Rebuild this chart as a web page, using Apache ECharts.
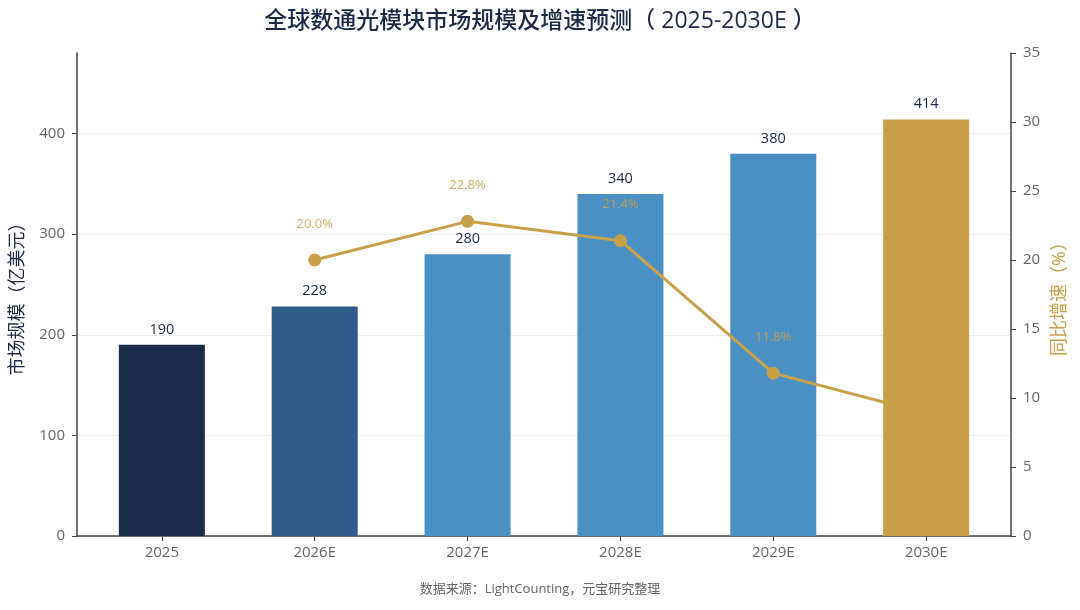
<!DOCTYPE html>
<html>

<head>
    <title>全球数通光模块市场规模及增速预测</title>
    <meta charset="utf-8">
    <script src="https://cdn.jsdelivr.net/npm/echarts@6.0.0/dist/echarts.min.js"></script>
    <style>
        html, body { margin: 0; padding: 0; background: #fff; }
    </style>
</head>

<body>
    <div id="main" style="width: 1080px;height:610px;"></div>

    <script type="text/javascript">
        // data
        var years = ['2025', '2026E', '2027E', '2028E', '2029E', '2030E'];
        var marketSize = [190, 228, 280, 340, 380, 414];      // 亿美元
        var growthRate = [null, 20.0, 22.8, 21.4, 11.8, 8.9]; // %
        var barColors = ['#1c2a4a', '#2e5b88', '#4a90c3', '#4a90c3', '#4a90c3', '#c8a04a'];
        var leftTicks = [0, 100, 200, 300, 400];

        // latin glyphs from Open Sans, CJK falls back to Noto Sans CJK
        var font = '"Open Sans", "Noto Sans CJK SC", sans-serif';
        var navy = '#1c2a4a';
        var gold = '#c8a04a';

        var myChart = echarts.init(document.getElementById('main'));

        // last bar sits in its own series so it covers the tail of the line
        var lastIdx = years.length - 1;
        var barData = [], lastBar = [], lineData = [];
        years.forEach(function (y, i) {
            var item = { value: [i, marketSize[i]], itemStyle: { color: barColors[i] } };
            if (i === lastIdx) lastBar.push(item); else barData.push(item);
            if (growthRate[i] != null) {
                lineData.push({
                    value: [i, growthRate[i]],
                    label: { show: i !== lastIdx }
                });
            }
        });

        var barLabel = {
            show: true,
            position: 'top',
            distance: 8,
            color: navy,
            fontSize: 14.5,
            fontFamily: font
        };

        var option = {
            backgroundColor: '#fff',
            textStyle: { fontFamily: font },
            title: {
                text: '全球数通光模块市场规模及增速预测（ 2025-2030E ）',
                left: 'center',
                top: 5,
                textStyle: { color: navy, fontSize: 23, fontWeight: 500, fontFamily: font }
            },
            graphic: [{
                type: 'text',
                left: 'center',
                top: 583,
                style: {
                    text: '数据来源：LightCounting，元宝研究整理',
                    fill: '#666',
                    fontSize: 13,
                    fontFamily: font
                }
            }],
            grid: { left: 77, right: 69, top: 53, bottom: 74 },
            xAxis: {
                type: 'value',
                min: -0.555,
                max: 5.555,
                axisLine: { show: true, onZero: false, lineStyle: { color: '#444', width: 1.5 } },
                axisTick: { show: true, customValues: [0, 1, 2, 3, 4, 5], length: 5, lineStyle: { color: '#444' } },
                axisLabel: {
                    customValues: [0, 1, 2, 3, 4, 5],
                    formatter: function (v) { return years[Math.round(v)]; },
                    color: '#666',
                    fontSize: 15,
                    margin: 9
                },
                splitLine: { show: false }
            },
            yAxis: [{
                type: 'value',
                min: 0,
                max: 480,
                position: 'left',
                name: '市场规模（亿美元）',
                nameLocation: 'middle',
                nameRotate: 90,
                nameGap: 50,
                nameTextStyle: { color: navy, fontSize: 18, fontFamily: font },
                axisLine: { show: true, onZero: false, lineStyle: { color: '#444', width: 1.5 } },
                axisTick: { show: true, customValues: leftTicks, length: 5, lineStyle: { color: '#444' } },
                axisLabel: { customValues: leftTicks, color: '#666', fontSize: 15, margin: 12 },
                splitLine: { show: true, lineStyle: { color: '#eceef0', width: 1 } }
            }, {
                type: 'value',
                min: 0,
                max: 35,
                interval: 5,
                position: 'right',
                name: '同比增速（%）',
                nameLocation: 'middle',
                nameRotate: 90,
                nameGap: 40,
                nameTextStyle: { color: gold, fontSize: 18, fontFamily: font },
                axisLine: { show: true, onZero: false, lineStyle: { color: '#444', width: 1.5 } },
                axisTick: { show: true, length: 5, lineStyle: { color: '#444' } },
                axisLabel: { color: '#666', fontSize: 15, margin: 12 },
                splitLine: { show: false }
            }],
            series: [{
                type: 'bar',
                name: '市场规模',
                yAxisIndex: 0,
                barWidth: 86,
                barGap: '-100%',
                z: 2,
                data: barData,
                label: barLabel
            }, {
                type: 'line',
                name: '同比增速',
                yAxisIndex: 1,
                z: 3,
                data: lineData,
                symbol: 'circle',
                symbolSize: 13,
                lineStyle: { color: gold, width: 3 },
                itemStyle: { color: gold },
                label: {
                    show: true,
                    position: 'top',
                    distance: 23,
                    color: 'rgba(200,160,74,0.85)',
                    fontSize: 13,
                    fontFamily: font,
                    formatter: function (p) { return p.value[1].toFixed(1) + '%'; }
                }
            }, {
                type: 'bar',
                name: '市场规模2030E',
                yAxisIndex: 0,
                barWidth: 86,
                barGap: '-100%',
                z: 5,
                data: lastBar,
                label: barLabel
            }]
        };

        myChart.setOption(option);
    </script>
</body>

</html>
